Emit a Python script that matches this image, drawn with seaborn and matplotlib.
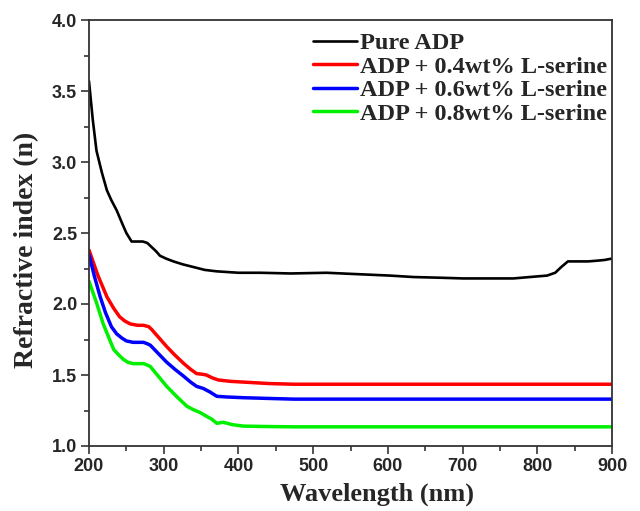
import numpy as np
import pandas as pd
import matplotlib
matplotlib.use('Agg')
import matplotlib.pyplot as plt
import seaborn as sns
from matplotlib.ticker import MultipleLocator

sns.set_style('ticks')
plt.rcParams['font.family'] = ['Liberation Sans', 'DejaVu Sans']

# values
pure_x = [200, 205, 210, 217, 224, 230, 237, 245, 250, 257, 265, 272, 278, 284, 290, 295, 303,
          313, 325, 340, 355, 371, 400, 429, 470, 518, 560, 603, 634, 670, 701, 740, 768, 790,
          813, 824, 832, 841, 855, 868, 880, 890, 900]
pure_y = [3.57, 3.30, 3.08, 2.93, 2.80, 2.73, 2.66, 2.56, 2.50, 2.44, 2.44, 2.44, 2.43, 2.40, 2.37,
          2.34, 2.32, 2.30, 2.28, 2.26, 2.24, 2.23, 2.22, 2.22, 2.215, 2.22, 2.21, 2.20, 2.19, 2.185,
          2.18, 2.18, 2.18, 2.19, 2.20, 2.22, 2.26, 2.30, 2.30, 2.30, 2.305, 2.31, 2.32]

red_x = [200, 212, 224, 233, 241, 248, 255, 265, 273, 280, 284, 294, 304, 315, 327, 336, 344,
         352, 357, 365, 373, 390, 407, 440, 474, 540, 603, 700, 900]
red_y = [2.38, 2.20, 2.05, 1.97, 1.91, 1.88, 1.86, 1.85, 1.85, 1.84, 1.82, 1.76, 1.70, 1.64,
         1.58, 1.54, 1.51, 1.505, 1.50, 1.48, 1.465, 1.455, 1.45, 1.44, 1.435, 1.435, 1.435, 1.435, 1.435]

blue_x = [200, 207, 215, 222, 230, 237, 244, 250, 259, 266, 273, 278, 282, 293, 304, 315, 327,
          336, 344, 353, 362, 371, 385, 407, 440, 474, 540, 700, 900]
blue_y = [2.35, 2.20, 2.05, 1.94, 1.84, 1.79, 1.76, 1.74, 1.73, 1.73, 1.73, 1.72, 1.71, 1.65,
          1.59, 1.54, 1.49, 1.45, 1.42, 1.405, 1.38, 1.35, 1.345, 1.34, 1.335, 1.33, 1.33, 1.33, 1.33]

green_x = [200, 210, 219, 226, 233, 240, 246, 252, 259, 266, 273, 278, 282, 293, 304, 317, 331,
           340, 349, 357, 364, 371, 380, 392, 407, 440, 474, 540, 700, 900]
green_y = [2.16, 2.01, 1.86, 1.77, 1.68, 1.64, 1.61, 1.59, 1.58, 1.58, 1.58, 1.57, 1.56, 1.49,
           1.42, 1.35, 1.28, 1.255, 1.235, 1.21, 1.19, 1.16, 1.167, 1.15, 1.14, 1.137, 1.135, 1.135,
           1.135, 1.135]

labels = ['Pure ADP', 'ADP + 0.4wt% L-serine', 'ADP + 0.6wt% L-serine', 'ADP + 0.8wt% L-serine']
colors = ['#000000', '#ff0000', '#0000ff', '#00f000']
widths = [1.9, 2.5, 2.5, 2.5]

frames = []
for lab, xs, ys in zip(labels, [pure_x, red_x, blue_x, green_x], [pure_y, red_y, blue_y, green_y]):
    frames.append(pd.DataFrame({'Wavelength': xs, 'n': ys, 'sample': lab}))
df = pd.concat(frames, ignore_index=True)

fig = plt.figure(figsize=(6.4, 5.11), dpi=100)
ax = fig.add_axes([89 / 640, 1 - 446 / 511, (612 - 89) / 640, (446 - 20) / 511])

for lab, col, lw in zip(labels, colors, widths):
    sns.lineplot(data=df[df['sample'] == lab], x='Wavelength', y='n', color=col, lw=lw,
                 label=lab, ax=ax, estimator=None, sort=False)

ax.set_xlim(200, 900)
ax.set_ylim(1.0, 4.0)
ax.xaxis.set_major_locator(MultipleLocator(100))
ax.xaxis.set_minor_locator(MultipleLocator(50))
ax.yaxis.set_major_locator(MultipleLocator(0.5))
ax.yaxis.set_minor_locator(MultipleLocator(0.25))
ax.tick_params(which='major', length=5.5, width=1.2, color='#333333', direction='out',
               labelsize=13, pad=3)
ax.tick_params(which='minor', length=3.5, width=1.2, color='#333333', direction='out')
for lbl in ax.get_xticklabels() + ax.get_yticklabels():
    lbl.set_fontweight('bold')
ax.yaxis.set_major_formatter(matplotlib.ticker.FormatStrFormatter('%.1f'))
for sp in ax.spines.values():
    sp.set_linewidth(1.3)
    sp.set_color('#333333')

ax.set_xlabel('Wavelength (nm)', family='Liberation Serif', fontweight='bold', fontsize=19)
ax.set_ylabel('Refractive index (n)', family='Liberation Serif', fontweight='bold', fontsize=20)
ax.xaxis.set_label_coords(0.55, -0.087)
ax.yaxis.set_label_coords(-0.095, 0.46)

leg = ax.legend(loc='upper right', frameon=False, prop={'family': 'Liberation Serif', 'weight': 'bold', 'size': 17.5},
                handlelength=1.8, handletextpad=0.12, labelspacing=0.06, borderaxespad=0.0,
                borderpad=0.2, bbox_to_anchor=(1.0, 0.983))

fig.savefig('out.png', dpi=100)
